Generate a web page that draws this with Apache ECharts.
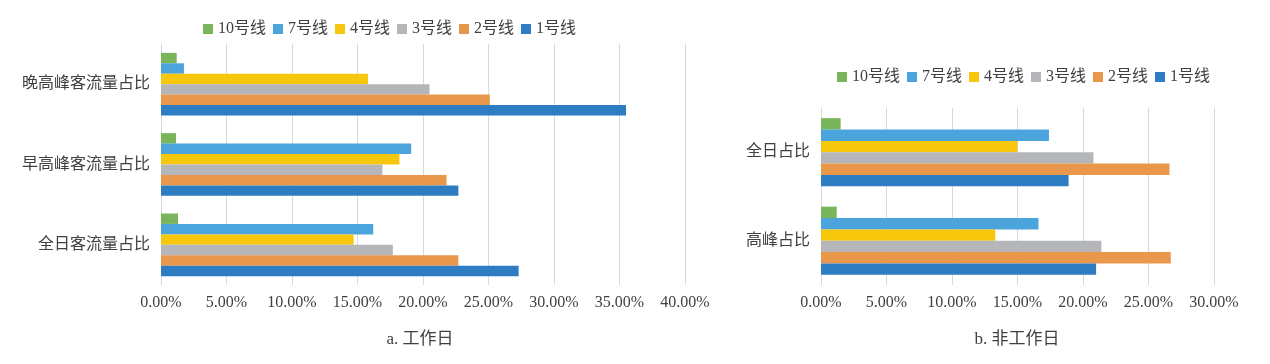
<!DOCTYPE html>
<html>
<head>
<meta charset="utf-8">
<script src="https://cdn.jsdelivr.net/npm/echarts@6/dist/echarts.min.js"></script>
<style>
html,body{margin:0;padding:0;background:#fff;}
#main{width:1270px;height:364px;}
</style>
</head>
<body>
<div id="main"></div>
<script>
// Series names (legend order, top bar of each group first)
var lineNames = ['10号线', '7号线', '4号线', '3号线', '2号线', '1号线'];
var lineColors = ['#7AB55C', '#4BA4DC', '#F6C70D', '#B4B6B9', '#E8974B', '#2E7DC2'];

// a. 工作日 (categories listed bottom to top)
var catsA = ['全日客流量占比', '早高峰客流量占比', '晚高峰客流量占比'];
var a_10 = [1.3, 1.15, 1.2];
var a_7  = [16.2, 19.1, 1.75];
var a_4  = [14.7, 18.2, 15.8];
var a_3  = [17.7, 16.9, 20.5];
var a_2  = [22.7, 21.8, 25.1];
var a_1  = [27.3, 22.7, 35.5];

// b. 非工作日 (categories listed bottom to top)
var catsB = ['高峰占比', '全日占比'];
var b_10 = [1.2, 1.5];
var b_7  = [16.6, 17.4];
var b_4  = [13.3, 15.0];
var b_3  = [21.4, 20.8];
var b_2  = [26.7, 26.6];
var b_1  = [21.0, 18.9];

var titleA = 'a. 工作日';
var titleB = 'b. 非工作日';

var dataA = [a_10, a_7, a_4, a_3, a_2, a_1];
var dataB = [b_10, b_7, b_4, b_3, b_2, b_1];

var FONT = '"Liberation Serif", "Noto Sans CJK SC", serif';
var TXT = '#404040';
var GRID = '#D9D9D9';

function pct(v){ return v.toFixed(2) + '%'; }

function xAxisCfg(idx, max){
  return {
    type: 'value', gridIndex: idx, min: 0, max: max, interval: 5,
    axisLine: {show: false}, axisTick: {show: false},
    splitLine: {show: true, lineStyle: {color: GRID, width: 1}},
    axisLabel: {formatter: pct, color: TXT, fontFamily: FONT, fontSize: 16, margin: 10}
  };
}
function yAxisCfg(idx, cats){
  return {
    type: 'category', gridIndex: idx, data: cats,
    axisLine: {show: true, lineStyle: {color: GRID, width: 1}},
    axisTick: {show: false},
    axisLabel: {color: TXT, fontFamily: FONT, fontSize: 16, margin: 11}
  };
}

var series = [];
lineNames.forEach(function(n, i){
  series.push({name: n, type: 'bar', xAxisIndex: 0, yAxisIndex: 0, data: dataA[i],
    itemStyle: {color: lineColors[i]}, barGap: '0%', barCategoryGap: '22%'});
});
lineNames.forEach(function(n, i){
  series.push({name: n, type: 'bar', xAxisIndex: 1, yAxisIndex: 1, data: dataB[i],
    itemStyle: {color: lineColors[i]}, barGap: '0%', barCategoryGap: '23%'});
});

var legendText = {color: TXT, fontFamily: FONT, fontSize: 16};

var chart = echarts.init(document.getElementById('main'), null, {renderer: 'canvas'});
chart.setOption({
  animation: false,
  backgroundColor: '#fff',
  title: [
    {text: titleA, left: 415, top: 326, textAlign: 'center',
     textStyle: {color: TXT, fontFamily: FONT, fontSize: 17, fontWeight: 'normal'}},
    {text: titleB, left: 1012, top: 326, textAlign: 'center',
     textStyle: {color: TXT, fontFamily: FONT, fontSize: 17, fontWeight: 'normal'}}
  ],
  legend: [
    {data: lineNames, left: 203, top: 21, padding: 0, itemWidth: 10, itemHeight: 10, itemGap: 7,
     icon: 'rect', textStyle: legendText},
    {data: lineNames, left: 837, top: 69, padding: 0, itemWidth: 10, itemHeight: 10, itemGap: 7,
     icon: 'rect', textStyle: legendText}
  ],
  grid: [
    {left: 161, width: 524, top: 44, height: 241},
    {left: 821, width: 393, top: 108, height: 177}
  ],
  xAxis: [xAxisCfg(0, 40), xAxisCfg(1, 30)],
  yAxis: [yAxisCfg(0, catsA), yAxisCfg(1, catsB)],
  series: series
});
</script>
</body>
</html>
